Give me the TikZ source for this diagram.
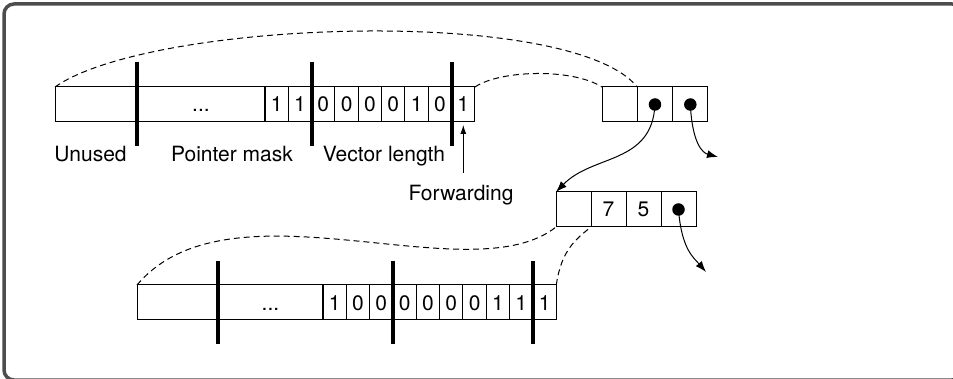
\documentclass[tikz,border=0pt]{standalone}
\usepackage{fontspec}
\setmainfont{TeX Gyre Heros}
\usetikzlibrary{arrows.meta,positioning}
\definecolor{framegray}{HTML}{4D4D4D}
\begin{document}
\begin{tikzpicture}[x=1pt,y=-1pt,
    every node/.style={inner sep=0pt,outer sep=0pt,font=\fontsize{21}{25}\selectfont},
    cell/.style={draw,line width=1pt,minimum height=35pt,text height=15pt,text depth=0pt},
    bit/.style={cell,minimum width=23.33pt},
    pcell/.style={cell,minimum width=35.33pt},
    bar/.style={line width=4pt},
    dot/.style={circle,fill=black,minimum size=12.5pt},
    link/.style={line width=1pt,dash pattern=on 6pt off 4pt},
    ptr/.style={line width=1pt,-{Latex[length=11pt,width=8pt]}},
    fptr/.style={line width=0.8pt,-{Latex[length=9pt,width=6pt]}},
    lbl/.style={anchor=base}]
    \useasboundingbox (0,0) rectangle (953,379);
    \draw[line width=3.5pt,rounded corners=10pt,draw=framegray] (4,4) rectangle (962,380);

    % top word
    \node[cell,minimum width=82pt] (tun) at (96,104.5) {};
    \node[cell,minimum width=128pt] (tmask) at (201,104.5) {...};
    \foreach \b [count=\i] in {1,1,0,0,0,0,1,0,1}
        \node[bit] (tb\i) at ({265+23.33*\i-11.67},104.5) {\b};
    \foreach \n in {tun,tb2,tb8}
        \draw[bar] ([yshift=25pt]\n.north east) -- ([yshift=-24pt]\n.south east);
    \node[lbl] (unusedlbl) at (90.5,162) {Unused};
    \node[lbl] (masklbl) at (232,162) {Pointer mask};
    \node[lbl] (lenlbl) at (384,162) {Vector length};
    \node[lbl] (fwd) at (461,201) {Forwarding};
    \draw[fptr] ([yshift=13pt]fwd.north -| tb9.south) -- ([yshift=-3pt]tb9.south);

    % first pair
    \foreach \i in {1,2,3}
        \node[pcell] (c\i) at ({602+35.33*\i-17.67},104.5) {};
    \node[dot] (p1) at (c2) {};
    \node[dot] (p2) at (c3) {};

    % second object
    \node[pcell,minimum width=35pt] (d1) at (573.5,209.5) {};
    \node[pcell,minimum width=35pt] (d2) at (608.5,209.5) {7};
    \node[pcell,minimum width=35pt] (d3) at (643.5,209.5) {5};
    \node[pcell,minimum width=35pt] (d4) at (678.5,209.5) {};
    \node[dot] (p3) at (d4) {};

    % bottom word
    \node[cell,minimum width=81pt] (bun) at (177.5,302.5) {};
    \node[cell,minimum width=105pt] (bmask) at (270.5,302.5) {...};
    \foreach \b [count=\i] in {1,0,0,0,0,0,0,1,1,1}
        \node[bit] (bb\i) at ({323+23.33*\i-11.67},302.5) {\b};
    \foreach \n in {bun,bb3,bb9}
        \draw[bar] ([yshift=24pt]\n.north east) -- ([yshift=-24pt]\n.south east);

    % pointers
    \coordinate (e1) at (718,157);
    \coordinate (e2) at (706,272);
    \draw[ptr] (p1.center) .. controls +(-3,60) and +(37,-38) .. (d1.north west);
    \draw[ptr] (p2.center) .. controls +(2,40) and +(-15,-4) .. (e1);
    \draw[ptr] (p3.center) .. controls +(3,40) and +(-12,-14) .. (e2);

    % headers
    \draw[link] (tun.north west) .. controls (150,20) and (570,5) .. (c2.north west);
    \draw[link] (tb9.north east) .. controls (500,70) and (572,68) .. (c1.north west);
    \draw[link] (bun.north west) .. controls (230,175) and (470,295) .. (d1.south west);
    \draw[link] (bb10.north east) .. controls +(5,-35) and +(-15,12) .. (d2.south west);
\end{tikzpicture}
\end{document}
